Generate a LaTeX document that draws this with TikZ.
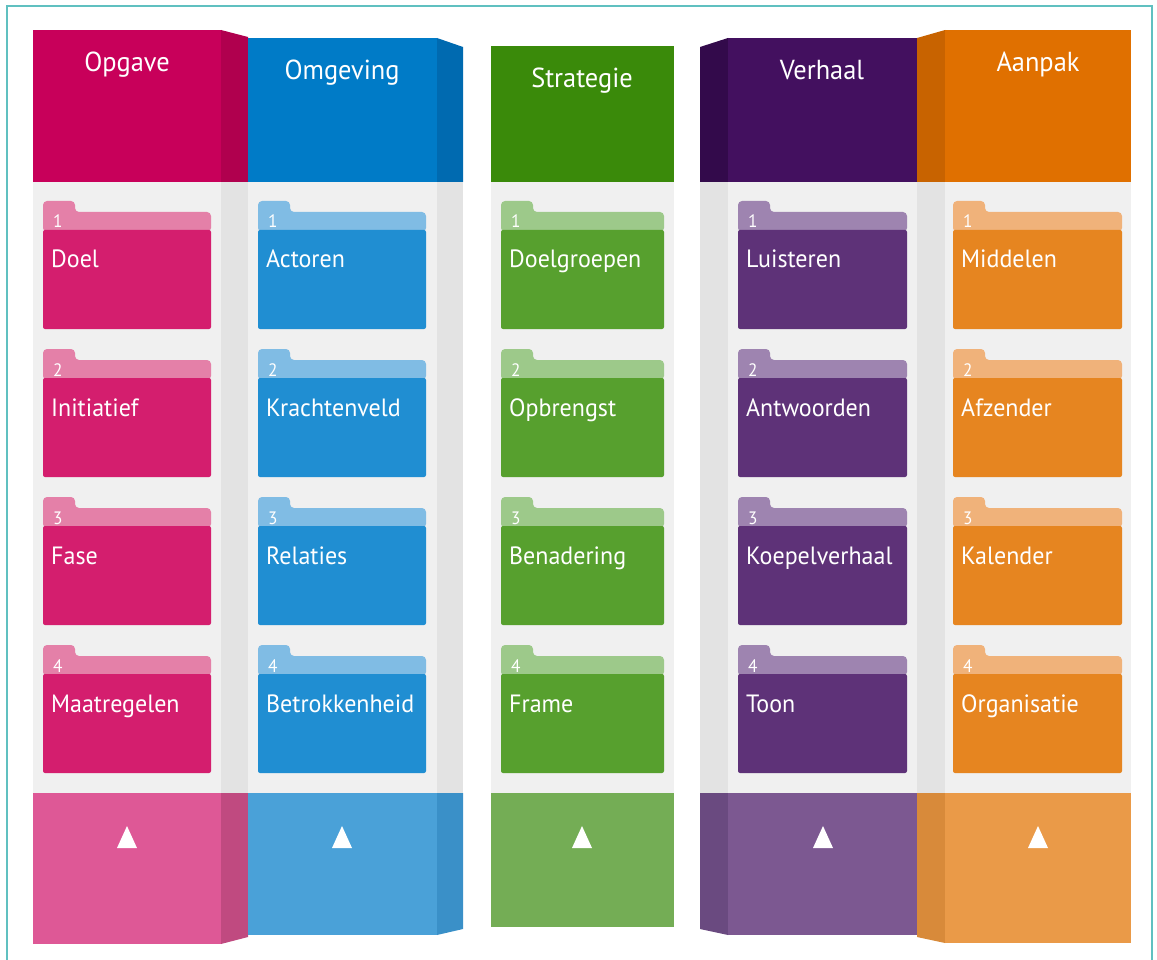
\documentclass[tikz,border=0pt]{standalone}
\usepackage{fontspec}
\setmainfont{PT Sans}[FakeStretch=0.96]
\definecolor{frameteal}{RGB}{96,192,192}
\definecolor{panel}{RGB}{240,240,240}
\definecolor{panelside}{RGB}{227,227,227}
% Opgave
\definecolor{aHead}{RGB}{200,0,90}\definecolor{aSide}{RGB}{176,0,78}
\definecolor{aCard}{RGB}{212,30,110}\definecolor{aTab}{RGB}{228,128,168}
\definecolor{aFoot}{RGB}{222,88,150}\definecolor{aFootS}{RGB}{192,74,128}
% Omgeving
\definecolor{bHead}{RGB}{0,123,199}\definecolor{bSide}{RGB}{0,106,176}
\definecolor{bCard}{RGB}{32,142,210}\definecolor{bTab}{RGB}{128,188,228}
\definecolor{bFoot}{RGB}{74,161,216}\definecolor{bFootS}{RGB}{58,144,200}
% Strategie
\definecolor{cHead}{RGB}{58,138,10}
\definecolor{cCard}{RGB}{87,160,46}\definecolor{cTab}{RGB}{157,201,138}
\definecolor{cFoot}{RGB}{116,173,85}
% Verhaal
\definecolor{dHead}{RGB}{67,16,95}\definecolor{dSide}{RGB}{51,10,75}
\definecolor{dCard}{RGB}{94,50,120}\definecolor{dTab}{RGB}{158,132,176}
\definecolor{dFoot}{RGB}{124,88,145}\definecolor{dFootS}{RGB}{106,74,128}
% Aanpak
\definecolor{eHead}{RGB}{224,112,0}\definecolor{eSide}{RGB}{200,99,0}
\definecolor{eCard}{RGB}{230,133,32}\definecolor{eTab}{RGB}{240,178,122}
\definecolor{eFoot}{RGB}{234,154,72}\definecolor{eFootS}{RGB}{216,138,58}
\tikzset{
  headtext/.style={anchor=base, text=white, inner sep=0pt, font=\fontsize{27.5}{27.5}\selectfont},
  cardtext/.style={anchor=base west, text=white, inner sep=0pt, font=\fontsize{25}{25}\selectfont},
  numtext/.style={anchor=base west, text=white, inner sep=0pt, font=\fontsize{18}{18}\selectfont},
}
% #1 L, #2 R, #3 T, #4 number, #5 label, #6 body colour, #7 tab colour, #8 name
\newcommand\foldercard[8]{%
  \fill[#7, rounded corners=4pt] (#1,#3+31) -- (#1,#3) -- (#1+32,#3) -- (#1+32,#3+11) -- (#2,#3+11) -- (#2,#3+31) -- cycle;
  \fill[#6, rounded corners=2pt] (#1,#3+29) -- (#1,#3+128) -- (#2,#3+128) -- (#2,#3+29) -- cycle;
  \fill[#6] (#1,#3+31) rectangle (#2,#3+40);
  \node[numtext] (#8num) at (#1+10,#3+27) {#4};
  \node[cardtext] (#8) at (#1+8,#3+67) {#5};
}
\begin{document}
\begin{tikzpicture}[x=1pt,y=-1pt]
\useasboundingbox (0,0) rectangle (1157,960);
\fill[white] (0,0) rectangle (1157,960);
\draw[frameteal, line width=2pt] (7,6) rectangle (1152,964);

% ---------- panels ----------
\fill[panel] (33,182) rectangle (221,793);
\fill[panelside] (221,182) rectangle (248,793);
\fill[panel] (248,182) rectangle (437,793);
\fill[panelside] (437,182) rectangle (463,793);
\fill[panel] (491,182) rectangle (674,793);
\fill[panelside] (700,182) rectangle (728,793);
\fill[panel] (728,182) rectangle (917,793);
\fill[panelside] (917,182) rectangle (945,793);
\fill[panel] (945,182) rectangle (1131,793);

% ---------- header blocks ----------
\fill[aHead] (33,30) rectangle (221,182);
\fill[aSide] (221,30) -- (248,37) -- (248,182) -- (221,182) -- cycle;
\fill[bHead] (248,38) rectangle (437,182);
\fill[bSide] (437,38) -- (463,47) -- (463,182) -- (437,182) -- cycle;
\fill[cHead] (491,46) rectangle (674,182);
\fill[dSide] (700,47) -- (728,38) -- (728,182) -- (700,182) -- cycle;
\fill[dHead] (728,38) rectangle (917,182);
\fill[eSide] (917,38) -- (945,30) -- (945,182) -- (917,182) -- cycle;
\fill[eHead] (945,30) rectangle (1131,182);

\node[headtext] (hOpgave) at (127,72) {Opgave};
\node[headtext] (hOmgeving) at (342,80) {Omgeving};
\node[headtext] (hStrategie) at (582,88) {Strategie};
\node[headtext] (hVerhaal) at (822,80) {Verhaal};
\node[headtext] (hAanpak) at (1038,72) {Aanpak};

% ---------- cards ----------
\foldercard{43}{211}{201}{1}{Doel}{aCard}{aTab}{a1}
\foldercard{43}{211}{349}{2}{Initiatief}{aCard}{aTab}{a2}
\foldercard{43}{211}{497}{3}{Fase}{aCard}{aTab}{a3}
\foldercard{43}{211}{645}{4}{Maatregelen}{aCard}{aTab}{a4}

\foldercard{258}{426}{201}{1}{Actoren}{bCard}{bTab}{b1}
\foldercard{258}{426}{349}{2}{Krachtenveld}{bCard}{bTab}{b2}
\foldercard{258}{426}{497}{3}{Relaties}{bCard}{bTab}{b3}
\foldercard{258}{426}{645}{4}{Betrokkenheid}{bCard}{bTab}{b4}

\foldercard{501}{664}{201}{1}{Doelgroepen}{cCard}{cTab}{c1}
\foldercard{501}{664}{349}{2}{Opbrengst}{cCard}{cTab}{c2}
\foldercard{501}{664}{497}{3}{Benadering}{cCard}{cTab}{c3}
\foldercard{501}{664}{645}{4}{Frame}{cCard}{cTab}{c4}

\foldercard{738}{907}{201}{1}{Luisteren}{dCard}{dTab}{d1}
\foldercard{738}{907}{349}{2}{Antwoorden}{dCard}{dTab}{d2}
\foldercard{738}{907}{497}{3}{Koepelverhaal}{dCard}{dTab}{d3}
\foldercard{738}{907}{645}{4}{Toon}{dCard}{dTab}{d4}

\foldercard{953}{1122}{201}{1}{Middelen}{eCard}{eTab}{e1}
\foldercard{953}{1122}{349}{2}{Afzender}{eCard}{eTab}{e2}
\foldercard{953}{1122}{497}{3}{Kalender}{eCard}{eTab}{e3}
\foldercard{953}{1122}{645}{4}{Organisatie}{eCard}{eTab}{e4}

% ---------- foot blocks ----------
\fill[aFoot] (33,793) rectangle (221,944);
\fill[aFootS] (221,793) -- (248,793) -- (248,937) -- (221,944) -- cycle;
\fill[bFoot] (248,793) rectangle (437,935);
\fill[bFootS] (437,793) -- (463,793) -- (463,929) -- (437,935) -- cycle;
\fill[cFoot] (491,793) rectangle (674,927);
\fill[dFootS] (700,793) -- (728,793) -- (728,935) -- (700,929) -- cycle;
\fill[dFoot] (728,793) rectangle (917,935);
\fill[eFootS] (917,793) -- (945,793) -- (945,943) -- (917,937) -- cycle;
\fill[eFoot] (945,793) rectangle (1131,943);

\foreach \cx in {127,342,582,823,1038}
  \fill[white] (\cx-10,848) -- (\cx+10,848) -- (\cx,826) -- cycle;
\end{tikzpicture}
\end{document}
